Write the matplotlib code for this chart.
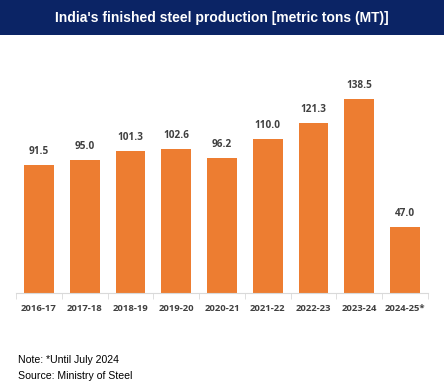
import matplotlib.pyplot as plt
from matplotlib.patches import Rectangle

years = ["2016-17", "2017-18", "2018-19", "2019-20", "2020-21",
         "2021-22", "2022-23", "2023-24", "2024-25*"]
production = [91.5, 95.0, 101.3, 102.6, 96.2, 110.0, 121.3, 138.5, 47.0]

W, H = 444, 388
fig = plt.figure(figsize=(W / 100, H / 100), dpi=100)

# title banner
fig.patches.append(Rectangle((0, 1 - 35 / H), 1, 35 / H, transform=fig.transFigure,
                             facecolor="#0b2465", edgecolor="none", zorder=0))
fig.text(0.5, 1 - 18 / H, "India's finished steel production [metric tons (MT)]",
         ha="center", va="center", color="white", fontsize=10,
         fontweight="bold", family="Liberation Sans")

# axes: bottom at y=293px, top at 60px, x 16..428
ax = fig.add_axes([16 / W, 1 - 293 / H, 412 / W, (293 - 60) / H])
x = range(len(years))
bars = ax.bar(x, production, width=0.65, color="#ED7D31")
ax.set_xlim(-0.5, len(years) - 0.5)
ax.set_ylim(0, (293 - 60) / 1.4)

for b, v in zip(bars, production):
    ax.annotate(f"{v:.1f}", (b.get_x() + b.get_width() / 2, v),
                xytext=(0, 6), textcoords="offset points", ha="center", va="bottom",
                fontsize=7.2, fontweight="bold", color="#404040", family="Open Sans")

for s in ["top", "right", "left"]:
    ax.spines[s].set_visible(False)
ax.spines["bottom"].set_color("#d9d9d9")
ax.set_yticks([])
ax.set_xticks(list(x))
ax.set_xticklabels(years, fontsize=6.8, fontweight="bold", color="#404040",
                   family="Open Sans")
ax.tick_params(axis="x", length=0, pad=8)
ax.set_xticks([i - 0.5 for i in range(len(years) + 1)], minor=True)
ax.tick_params(axis="x", which="minor", length=4, color="#d9d9d9")

fig.text(18 / W, 1 - 360 / H, "Note: *Until July 2024", ha="left", va="center",
         fontsize=7.6, family="Liberation Sans", color="black")
fig.text(18 / W, 1 - 376 / H, "Source: Ministry of Steel", ha="left", va="center",
         fontsize=7.6, family="Liberation Sans", color="black")

fig.savefig("out.png", dpi=100)
